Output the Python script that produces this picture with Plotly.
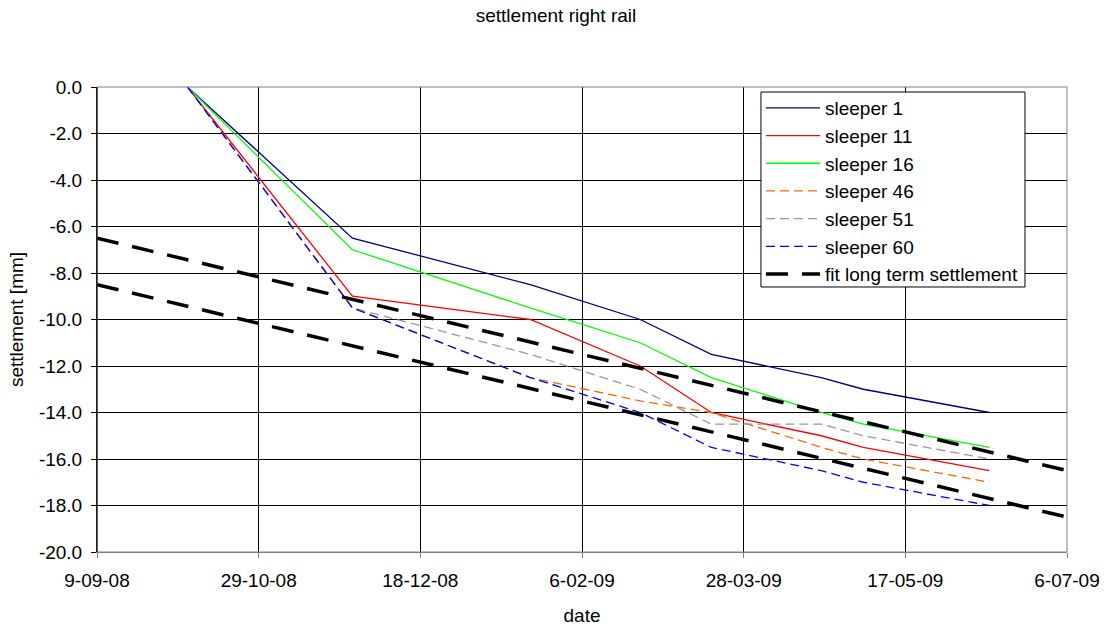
import plotly.graph_objects as go

# Measurement dates and settlement per sleeper [mm]
dates = ["2008-10-07", "2008-11-27", "2009-01-21", "2009-02-24",
         "2009-03-18", "2009-04-21", "2009-05-04", "2009-06-12"]
sleeper_1 = [0.0, -6.5, -8.5, -10.0, -11.5, -12.5, -13.0, -14.0]
sleeper_11 = [0.0, -9.0, -10.0, -12.0, -14.0, -15.0, -15.5, -16.5]
sleeper_16 = [0.0, -7.0, -9.5, -11.0, -12.5, -14.0, -14.5, -15.5]
sleeper_46 = [0.0, -9.5, -12.5, -13.5, -14.0, -15.5, -16.0, -17.0]
sleeper_51 = [0.0, -9.5, -11.5, -13.0, -14.5, -14.5, -15.0, -16.0]
sleeper_60 = [0.0, -9.5, -12.5, -14.0, -15.5, -16.5, -17.0, -18.0]

# Long-term settlement fit: two parallel lines (start/end of the date axis)
fit_dates = ["2008-09-09", "2009-07-06"]
fit_upper = [-6.5, -16.5]
fit_lower = [-8.5, -18.5]

# Axis ticks
x_tickvals = ["2008-09-09", "2008-10-29", "2008-12-18", "2009-02-06",
              "2009-03-28", "2009-05-17", "2009-07-06"]
x_ticktext = ["9-09-08", "29-10-08", "18-12-08", "6-02-09",
              "28-03-09", "17-05-09", "6-07-09"]
y_tickvals = [0, -2, -4, -6, -8, -10, -12, -14, -16, -18, -20]
y_ticktext = ["0.0", "-2.0", "-4.0", "-6.0", "-8.0", "-10.0",
              "-12.0", "-14.0", "-16.0", "-18.0", "-20.0"]

FONT = "Liberation Sans, Arial, sans-serif"

series = [
    ("sleeper 1", sleeper_1, "#000080", "solid"),
    ("sleeper 11", sleeper_11, "#FF0000", "solid"),
    ("sleeper 16", sleeper_16, "#00FF00", "solid"),
    ("sleeper 46", sleeper_46, "#FF6600", "9px,5px"),
    ("sleeper 51", sleeper_51, "#999999", "9px,5px"),
    ("sleeper 60", sleeper_60, "#0000FF", "9px,5px"),
]

fig = go.Figure()
for name, vals, color, dash in series:
    fig.add_trace(go.Scatter(
        x=dates, y=vals, name=name, mode="lines",
        line=dict(color=color, width=1.3, dash=dash),
    ))

fig.add_trace(go.Scatter(
    x=fit_dates + [None] + fit_dates,
    y=fit_upper + [None] + fit_lower,
    name="fit long term settlement", mode="lines", connectgaps=False,
    line=dict(color="#000000", width=3.5, dash="22px,14px"),
))

fig.update_layout(
    width=1112, height=626,
    margin=dict(l=97, r=45, t=87, b=74),
    paper_bgcolor="white", plot_bgcolor="white",
    font=dict(family=FONT, size=19, color="#000000"),
    title=dict(text="settlement right rail", x=0.5, xanchor="center",
               y=0.975, yanchor="middle",
               font=dict(family=FONT, size=19, color="#000000")),
    showlegend=True,
    legend=dict(
        x=0.6845, y=0.9957, xanchor="left", yanchor="top",
        bgcolor="rgba(0,0,0,0)", borderwidth=0,
        font=dict(family=FONT, size=19, color="#000000"),
        itemwidth=54, tracegroupgap=0,
    ),
    xaxis=dict(
        type="date",
        range=["2008-09-09", "2009-07-06"],
        tickvals=x_tickvals, ticktext=x_ticktext,
        showgrid=True, gridcolor="#000000", gridwidth=1,
        showline=True, linecolor="#808080", linewidth=1,
        ticks="outside", ticklen=5, tickcolor="#808080",
        ticklabelstandoff=6,
        zeroline=False, automargin=False,
        title=dict(text="date", standoff=18,
                   font=dict(family=FONT, size=19)),
        tickfont=dict(family=FONT, size=19),
    ),
    yaxis=dict(
        range=[-20, 0],
        tickvals=y_tickvals, ticktext=y_ticktext,
        showgrid=True, gridcolor="#000000", gridwidth=1,
        showline=True, linecolor="#000000", linewidth=1,
        ticks="outside", ticklen=5, tickcolor="#000000",
        ticklabelstandoff=5,
        zeroline=False, automargin=False,
        title=dict(text="settlement [mm]", standoff=10,
                   font=dict(family=FONT, size=19)),
        tickfont=dict(family=FONT, size=19),
    ),
)

# Grey frame around the plotting area (top, right, bottom)
fig.add_shape(type="rect", xref="paper", yref="paper",
              x0=0, y0=0, x1=1, y1=1,
              line=dict(color="#808080", width=1), layer="above")
fig.add_shape(type="line", xref="paper", yref="paper",
              x0=0, y0=0, x1=0, y1=1,
              line=dict(color="#000000", width=1), layer="above")
# Legend frame
fig.add_shape(type="rect", xref="paper", yref="paper",
              x0=0.6845, x1=0.9567, y0=0.5699, y1=0.9892,
              fillcolor="white", line=dict(color="#000000", width=1),
              layer="above")

fig.write_html("out.html")
